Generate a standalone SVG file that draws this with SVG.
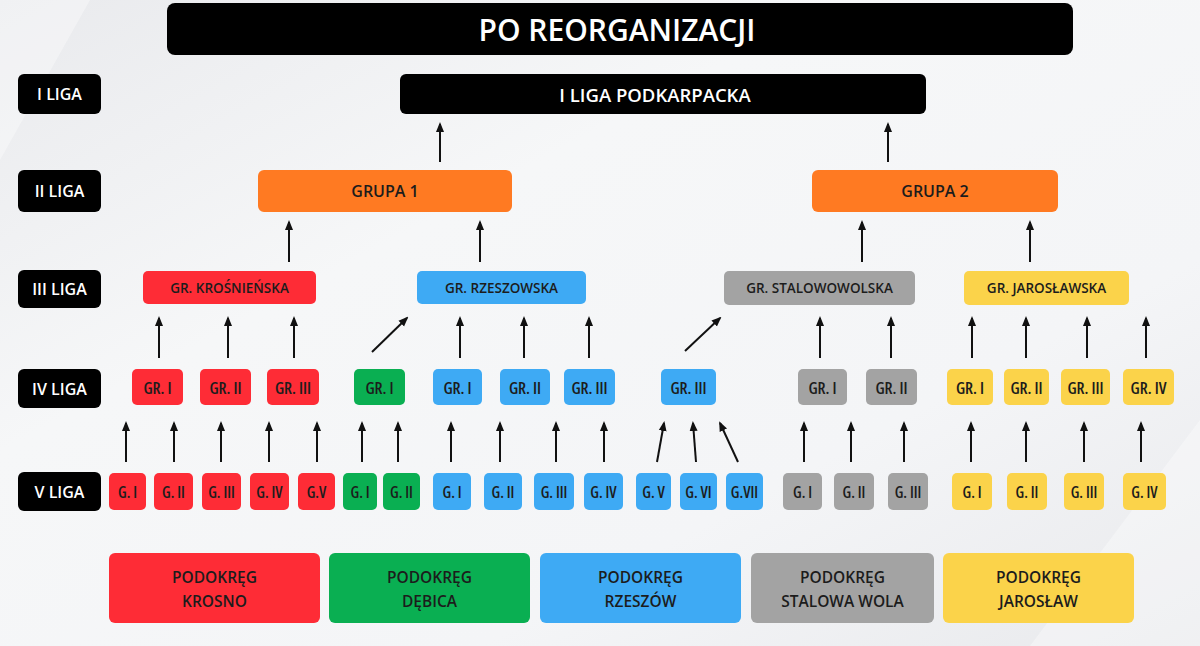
<svg xmlns="http://www.w3.org/2000/svg" width="1200" height="646" viewBox="0 0 1200 646">
<defs>
<linearGradient id="bg" x1="0" y1="0" x2="1" y2="1">
<stop offset="0" stop-color="#e9eaed"/>
<stop offset="0.35" stop-color="#f6f7f8"/>
<stop offset="0.7" stop-color="#f4f5f7"/>
<stop offset="1" stop-color="#e8e9ec"/>
</linearGradient>
<marker id="ah" markerUnits="userSpaceOnUse" markerWidth="10" markerHeight="10" viewBox="0 0 10 10" refX="8" refY="5" orient="auto">
<path d="M0,1 L10,5 L0,9 z" fill="#111"/>
</marker>
<style>
.blk{fill:#000}
.red{fill:#fe2c36}
.grn{fill:#0aaf52}
.blu{fill:#3eaaf4}
.gry{fill:#a3a3a3}
.yel{fill:#fbd34a}
.org{fill:#ff7a22}
text{font-family:"Open Sans","Liberation Sans",sans-serif;font-weight:600;text-anchor:middle;dominant-baseline:central}
.w{fill:#fff}
.d{fill:#1c1c1c}
.t30{font-size:30px}
.t19{font-size:18.5px}
.t16{font-size:16px}
.t15{font-size:15.5px}
.t13{font-size:13.5px}
.sm{font-size:16.5px;font-stretch:87.5%}
.xs{font-size:15.5px;font-stretch:87.5%}
.cn line{stroke:#111;stroke-width:2;marker-end:url(#ah)}
</style>
</defs>
<rect width="1200" height="646" fill="url(#bg)"/>
<polygon points="0,0 90,0 0,160" fill="#ffffff" opacity="0.35"/>
<polygon points="1200,420 1200,646 1030,646" fill="#ffffff" opacity="0.35"/>

<g id="title"><rect x="167" y="3" width="906" height="52" rx="8" class="blk"/><text x="617" y="29" class="w t30">PO REORGANIZACJI</text></g>

<g id="lbl-1"><rect x="18" y="74" width="83" height="40" rx="6" class="blk"/><text x="59.5" y="94" class="w t16">I LIGA</text></g>
<g id="lbl-2"><rect x="18" y="170" width="83" height="42" rx="6" class="blk"/><text x="59.5" y="191" class="w t16">II LIGA</text></g>
<g id="lbl-3"><rect x="18" y="270" width="83" height="38" rx="6" class="blk"/><text x="59.5" y="289" class="w t16">III LIGA</text></g>
<g id="lbl-4"><rect x="18" y="369" width="83" height="39" rx="6" class="blk"/><text x="59.5" y="388.5" class="w t16">IV LIGA</text></g>
<g id="lbl-5"><rect x="18" y="472" width="83" height="39" rx="6" class="blk"/><text x="59.5" y="491.5" class="w t16">V LIGA</text></g>

<g id="liga1"><rect x="400" y="74" width="526" height="40" rx="6" class="blk"/><text x="655" y="94" class="w t19">I LIGA PODKARPACKA</text></g>

<g id="grupa1"><rect x="258" y="170" width="254" height="42" rx="6" class="org"/><text x="385" y="191" class="d t16">GRUPA 1</text></g>
<g id="grupa2"><rect x="812" y="170" width="246" height="42" rx="6" class="org"/><text x="935" y="191" class="d t16">GRUPA 2</text></g>

<g id="iii-krosno"><rect x="143" y="271" width="173" height="33" rx="5" class="red"/><text x="229.5" y="287.5" class="d t13">GR. KROŚNIEŃSKA</text></g>
<g id="iii-rzeszow"><rect x="417" y="271" width="169" height="33" rx="5" class="blu"/><text x="501.5" y="287.5" class="d t13">GR. RZESZOWSKA</text></g>
<g id="iii-stalowa"><rect x="724" y="271" width="191" height="34" rx="5" class="gry"/><text x="819.5" y="288" class="d t13">GR. STALOWOWOLSKA</text></g>
<g id="iii-jaroslaw"><rect x="964" y="271" width="165" height="34" rx="5" class="yel"/><text x="1046.5" y="288" class="d t13">GR. JAROSŁAWSKA</text></g>

<g id="iv-k1"><rect x="132" y="369" width="51" height="36" rx="5" class="red"/><text x="157.5" y="387" class="d sm">GR. I</text></g>
<g id="iv-k2"><rect x="200" y="369" width="51" height="36" rx="5" class="red"/><text x="225.5" y="387" class="d sm">GR. II</text></g>
<g id="iv-k3"><rect x="267" y="369" width="52" height="36" rx="5" class="red"/><text x="293" y="387" class="d sm">GR. III</text></g>
<g id="iv-d1"><rect x="354" y="369" width="51" height="36" rx="5" class="grn"/><text x="379.5" y="387" class="d sm">GR. I</text></g>
<g id="iv-r1"><rect x="433" y="369" width="49" height="36" rx="5" class="blu"/><text x="457.5" y="387" class="d sm">GR. I</text></g>
<g id="iv-r2"><rect x="500" y="369" width="50" height="36" rx="5" class="blu"/><text x="525" y="387" class="d sm">GR. II</text></g>
<g id="iv-r3"><rect x="564" y="369" width="51" height="36" rx="5" class="blu"/><text x="589.5" y="387" class="d sm">GR. III</text></g>
<g id="iv-r3b"><rect x="661" y="369" width="55" height="36" rx="5" class="blu"/><text x="688.5" y="387" class="d sm">GR. III</text></g>
<g id="iv-s1"><rect x="798" y="369" width="49" height="36" rx="5" class="gry"/><text x="822.5" y="387" class="d sm">GR. I</text></g>
<g id="iv-s2"><rect x="866" y="369" width="51" height="36" rx="5" class="gry"/><text x="891.5" y="387" class="d sm">GR. II</text></g>
<g id="iv-j1"><rect x="947" y="369" width="46" height="36" rx="5" class="yel"/><text x="970" y="387" class="d sm">GR. I</text></g>
<g id="iv-j2"><rect x="1004" y="369" width="45" height="36" rx="5" class="yel"/><text x="1026.5" y="387" class="d sm">GR. II</text></g>
<g id="iv-j3"><rect x="1061" y="369" width="49" height="36" rx="5" class="yel"/><text x="1085.5" y="387" class="d sm">GR. III</text></g>
<g id="iv-j4"><rect x="1123" y="369" width="51" height="36" rx="5" class="yel"/><text x="1148.5" y="387" class="d sm">GR. IV</text></g>

<g id="v-k1"><rect x="109" y="473" width="37" height="37" rx="5" class="red"/><text x="127.5" y="491.5" class="d xs">G. I</text></g>
<g id="v-k2"><rect x="154" y="473" width="39" height="37" rx="5" class="red"/><text x="173.5" y="491.5" class="d xs">G. II</text></g>
<g id="v-k3"><rect x="202" y="473" width="39" height="37" rx="5" class="red"/><text x="221.5" y="491.5" class="d xs">G. III</text></g>
<g id="v-k4"><rect x="250" y="473" width="39" height="37" rx="5" class="red"/><text x="269.5" y="491.5" class="d xs">G. IV</text></g>
<g id="v-k5"><rect x="298" y="473" width="37" height="37" rx="5" class="red"/><text x="316.5" y="491.5" class="d xs">G.V</text></g>
<g id="v-d1"><rect x="343" y="473" width="34" height="37" rx="5" class="grn"/><text x="360" y="491.5" class="d xs">G. I</text></g>
<g id="v-d2"><rect x="383" y="473" width="37" height="37" rx="5" class="grn"/><text x="401.5" y="491.5" class="d xs">G. II</text></g>
<g id="v-r1"><rect x="433" y="473" width="38" height="37" rx="5" class="blu"/><text x="452" y="491.5" class="d xs">G. I</text></g>
<g id="v-r2"><rect x="484" y="473" width="38" height="37" rx="5" class="blu"/><text x="503" y="491.5" class="d xs">G. II</text></g>
<g id="v-r3"><rect x="534" y="473" width="40" height="37" rx="5" class="blu"/><text x="554" y="491.5" class="d xs">G. III</text></g>
<g id="v-r4"><rect x="584" y="473" width="39" height="37" rx="5" class="blu"/><text x="603.5" y="491.5" class="d xs">G. IV</text></g>
<g id="v-r5"><rect x="636" y="473" width="35" height="37" rx="5" class="blu"/><text x="653.5" y="491.5" class="d xs">G. V</text></g>
<g id="v-r6"><rect x="680" y="473" width="37" height="37" rx="5" class="blu"/><text x="698.5" y="491.5" class="d xs">G. VI</text></g>
<g id="v-r7"><rect x="726" y="473" width="37" height="37" rx="5" class="blu"/><text x="744.5" y="491.5" class="d xs">G.VII</text></g>
<g id="v-s1"><rect x="783" y="473" width="39" height="37" rx="5" class="gry"/><text x="802.5" y="491.5" class="d xs">G. I</text></g>
<g id="v-s2"><rect x="834" y="473" width="40" height="37" rx="5" class="gry"/><text x="854" y="491.5" class="d xs">G. II</text></g>
<g id="v-s3"><rect x="888" y="473" width="40" height="37" rx="5" class="gry"/><text x="908" y="491.5" class="d xs">G. III</text></g>
<g id="v-j1"><rect x="952" y="473" width="40" height="37" rx="5" class="yel"/><text x="972" y="491.5" class="d xs">G. I</text></g>
<g id="v-j2"><rect x="1007" y="473" width="40" height="37" rx="5" class="yel"/><text x="1027" y="491.5" class="d xs">G. II</text></g>
<g id="v-j3"><rect x="1064" y="473" width="40" height="37" rx="5" class="yel"/><text x="1084" y="491.5" class="d xs">G. III</text></g>
<g id="v-j4"><rect x="1123" y="473" width="43" height="37" rx="5" class="yel"/><text x="1144.5" y="491.5" class="d xs">G. IV</text></g>

<g id="pod-krosno"><rect x="109" y="553" width="211" height="70" rx="6" class="red"/><text x="214.5" y="577" class="d t15">PODOKRĘG</text><text x="214.5" y="600.5" class="d t15">KROSNO</text></g>
<g id="pod-debica"><rect x="329" y="553" width="201" height="70" rx="6" class="grn"/><text x="429.5" y="577" class="d t15">PODOKRĘG</text><text x="429.5" y="600.5" class="d t15">DĘBICA</text></g>
<g id="pod-rzeszow"><rect x="540" y="553" width="201" height="70" rx="6" class="blu"/><text x="640.5" y="577" class="d t15">PODOKRĘG</text><text x="640.5" y="600.5" class="d t15">RZESZÓW</text></g>
<g id="pod-stalowa"><rect x="751" y="553" width="183" height="70" rx="6" class="gry"/><text x="842.5" y="577" class="d t15">PODOKRĘG</text><text x="842.5" y="600.5" class="d t15">STALOWA WOLA</text></g>
<g id="pod-jaroslaw"><rect x="943" y="553" width="191" height="70" rx="6" class="yel"/><text x="1038.5" y="577" class="d t15">PODOKRĘG</text><text x="1038.5" y="600.5" class="d t15">JAROSŁAW</text></g>

<g id="connectors" class="cn">
<line x1="440" y1="162" x2="440" y2="124"/>
<line x1="888" y1="162" x2="888" y2="124"/>
<line x1="289" y1="262" x2="289" y2="222"/>
<line x1="480" y1="262" x2="480" y2="222"/>
<line x1="862" y1="262" x2="862" y2="222"/>
<line x1="1030" y1="262" x2="1030" y2="222"/>
<line x1="159" y1="358" x2="159" y2="318"/>
<line x1="228" y1="358" x2="228" y2="318"/>
<line x1="294" y1="358" x2="294" y2="318"/>
<line x1="372" y1="352" x2="407" y2="318"/>
<line x1="460" y1="358" x2="460" y2="318"/>
<line x1="524" y1="358" x2="524" y2="318"/>
<line x1="589" y1="358" x2="589" y2="318"/>
<line x1="685" y1="351" x2="720" y2="318"/>
<line x1="820" y1="358" x2="820" y2="318"/>
<line x1="891" y1="358" x2="891" y2="318"/>
<line x1="972" y1="358" x2="972" y2="318"/>
<line x1="1026" y1="358" x2="1026" y2="318"/>
<line x1="1087" y1="358" x2="1087" y2="318"/>
<line x1="1146" y1="358" x2="1146" y2="318"/>
<line x1="126" y1="462" x2="126" y2="423"/>
<line x1="174" y1="462" x2="174" y2="423"/>
<line x1="221" y1="462" x2="221" y2="423"/>
<line x1="269" y1="462" x2="269" y2="423"/>
<line x1="317" y1="462" x2="317" y2="423"/>
<line x1="362" y1="462" x2="362" y2="423"/>
<line x1="398" y1="462" x2="398" y2="423"/>
<line x1="451" y1="462" x2="451" y2="423"/>
<line x1="500" y1="462" x2="500" y2="423"/>
<line x1="556" y1="462" x2="556" y2="423"/>
<line x1="604" y1="462" x2="604" y2="423"/>
<line x1="657" y1="462" x2="664" y2="423"/>
<line x1="696" y1="462" x2="693" y2="423"/>
<line x1="738" y1="462" x2="720" y2="423"/>
<line x1="804" y1="462" x2="804" y2="423"/>
<line x1="851" y1="462" x2="851" y2="423"/>
<line x1="904" y1="462" x2="904" y2="423"/>
<line x1="971" y1="462" x2="971" y2="423"/>
<line x1="1026" y1="462" x2="1026" y2="423"/>
<line x1="1084" y1="462" x2="1084" y2="423"/>
<line x1="1141" y1="462" x2="1141" y2="423"/>
</g>
</svg>
